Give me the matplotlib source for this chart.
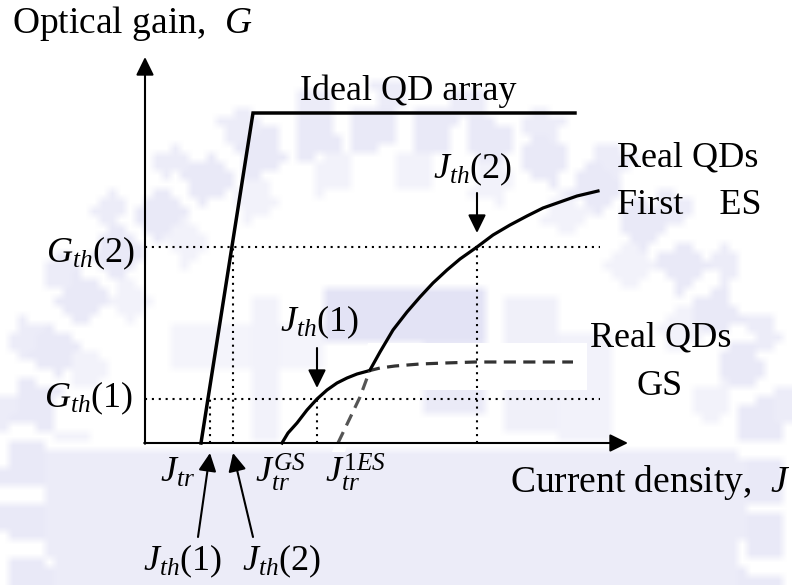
import numpy as np
import matplotlib
matplotlib.use("Agg")
import matplotlib.pyplot as plt
from matplotlib.patches import Polygon, Rectangle

plt.rcParams["font.family"] = ["Liberation Serif", "DejaVu Serif"]
plt.rcParams["mathtext.fontset"] = "custom"
plt.rcParams["mathtext.rm"] = "Liberation Serif"
plt.rcParams["mathtext.it"] = "Liberation Serif:italic"
plt.rcParams["mathtext.bf"] = "Liberation Serif:bold"

# ---- schematic gain-current data (arbitrary units) ----
ideal_J = [5.6, 10.8, 43.0]
ideal_G = [0.0, 33.0, 33.0]

gs_solid_J = [13.7, 14.3, 15.2, 16.2, 17.2, 18.2, 19.2, 20.2, 21.2, 22.3]
gs_solid_G = [0.0, 1.0, 2.0, 3.3, 4.4, 5.3, 6.0, 6.5, 6.9, 7.2]
gs_dash_J = [22.3, 23.5, 25.0, 27.5, 30.0, 33.0, 42.8]
gs_dash_G = [7.2, 7.5, 7.7, 7.9, 8.0, 8.1, 8.1]

es_dash_J = [19.3, 20.5, 21.5, 22.5]
es_dash_G = [0.0, 2.5, 4.6, 7.3]
es_solid_J = [22.5, 23.5, 24.8, 26.2, 27.5, 28.8, 30.2, 31.5, 33.2, 34.8,
              36.5, 38.2, 39.8, 41.5, 43.2, 45.3]
es_solid_G = [7.3, 9.1, 11.3, 13.1, 14.6, 16.0, 17.3, 18.4, 19.6, 20.8,
              21.8, 22.7, 23.5, 24.1, 24.7, 25.2]

G_th = [4.4, 19.6]            # G_th(1), G_th(2)
J_th_ideal = [6.5, 8.8]       # ideal array thresholds
J_th_real = [17.2, 33.2]      # real QD thresholds (GS, first ES)
J_axis_max, G_axis_max = 48.3, 38.6
dotted_end = 45.5

fig = plt.figure(figsize=(7.92, 5.85), dpi=100)
ax = fig.add_axes([0, 0, 1, 1])
xlim = (-14.5, 64.7)
ylim = (-14.2, 44.3)

# ---- faint emblem in the background ----
H, W, cell = 585, 792, 9
ys, xs = np.mgrid[0:H:cell, 0:W:cell].astype(float) + cell / 2
cx, cy = 395.0, 500.0
r = np.hypot(xs - cx, ys - cy)
theta = np.degrees(np.arctan2(cy - ys, xs - cx))
wm = np.zeros_like(r)
wm = np.maximum(wm, 0.6 * ((r > 352) & (r < 392) & ((theta % 9) < 6.5)))
wm = np.maximum(wm, 0.5 * ((r >= 392) & (r < 418) & ((theta % 11) < 5) & (ys < 470)))
wm = np.maximum(wm, 0.5 * ((r < 350) & (ys > 452)))
wm = np.maximum(wm, 0.35 * ((r > 315) & (r < 350) & ((theta % 14) < 6) & (ys < 440)))
for (x0, y0, x1, y1, v) in [(328, 287, 485, 340, 0.75), (424, 287, 485, 410, 0.55),
                            (167, 328, 323, 373, 0.3), (505, 300, 555, 430, 0.4),
                            (250, 300, 275, 440, 0.35), (560, 330, 610, 440, 0.35)]:
    wm = np.maximum(wm, v * ((xs > x0) & (xs < x1) & (ys > y0) & (ys < y1)))
img = np.zeros(wm.shape + (4,))
img[..., 0] = 0.82
img[..., 1] = 0.82
img[..., 2] = 0.94
img[..., 3] = np.clip(wm, 0, 1) * 0.8
ax.imshow(img, extent=(xlim[0], xlim[1], ylim[0], ylim[1]), origin="upper",
          interpolation="bilinear", aspect="auto", zorder=0)

# white masks behind the dashed segments
ax.add_patch(Rectangle((22.3, 5.3), 21.9, 4.7, facecolor="white", edgecolor="none", zorder=1))
ax.add_patch(Polygon([(18.7, -0.9), (20.0, -0.9), (23.5, 10.0), (22.3, 10.0)],
                     closed=True, facecolor="white", edgecolor="none", zorder=1))

# ---- axes with arrow heads ----
axis_arrow = dict(arrowstyle="-|>,head_length=0.55,head_width=0.27", lw=1.5,
                  color="black", shrinkA=0, shrinkB=0, mutation_scale=20)
ax.annotate("", xy=(0, G_axis_max), xytext=(0, -0.08), arrowprops=axis_arrow, zorder=5)
ax.annotate("", xy=(J_axis_max, 0), xytext=(-0.08, 0), arrowprops=axis_arrow, zorder=5)

# ---- dotted guide lines ----
dot = dict(color="black", lw=1.5, linestyle=(0, (1, 2.3)), dash_capstyle="butt", zorder=3)
for g in G_th:
    ax.plot([0, dotted_end], [g, g], **dot)
for j, g in zip(J_th_ideal, G_th):
    ax.plot([j, j], [0, g], **dot)
for j, g in zip(J_th_real, G_th):
    ax.plot([j, j], [0, g], **dot)

# ---- gain curves ----
ax.plot(ideal_J, ideal_G, color="black", lw=2.5, solid_joinstyle="miter", zorder=4)
ax.plot(gs_solid_J, gs_solid_G, color="black", lw=2.3, zorder=4)
ax.plot(gs_dash_J, gs_dash_G, color="#333333", lw=2.3, linestyle=(0, (3.8, 2.3)), zorder=4)
ax.plot(es_dash_J, es_dash_G, color="#555555", lw=2.3, linestyle=(0, (3.8, 2.3)), zorder=4)
ax.plot(es_solid_J, es_solid_G, color="black", lw=2.3, zorder=4)

# ---- threshold markers ----
small_arrow = dict(arrowstyle="-|>,head_length=0.55,head_width=0.27", lw=1.5,
                   color="black", shrinkA=0, shrinkB=0, mutation_scale=20)
ax.annotate("", xy=(J_th_real[1], G_th[1] + 1.4), xytext=(J_th_real[1], G_th[1] + 5.4),
            arrowprops=small_arrow, zorder=5)
ax.annotate("", xy=(J_th_real[0], G_th[0] + 1.1), xytext=(J_th_real[0], G_th[0] + 5.1),
            arrowprops=small_arrow, zorder=5)
ax.annotate("", xy=(J_th_ideal[0], -1.0), xytext=(5.3, -9.4), arrowprops=small_arrow, zorder=5)
ax.annotate("", xy=(J_th_ideal[1], -1.0), xytext=(10.8, -9.4), arrowprops=small_arrow, zorder=5)

# ---- labels ----
fs = 26
t = dict(color="black", va="baseline", zorder=6)
ax.text(-13.3, 41.0, r"Optical gain,  $G$", fontsize=27, ha="left", **t)
ax.text(15.5, 34.3, "Ideal QD array", fontsize=26, ha="left", **t)
ax.text(47.2, 27.6, "Real QDs", fontsize=fs, ha="left", **t)
ax.text(47.2, 22.9, "First    ES", fontsize=fs, ha="left", **t)
ax.text(44.5, 9.6, "Real QDs", fontsize=fs, ha="left", **t)
ax.text(51.5, 4.8, "GS", fontsize=fs, ha="center", **t)
ax.text(36.5, -4.9, r"Current density,  $J$", fontsize=27, ha="left", **t)

ax.text(-1.0, 18.1, r"$G_{th}(2)$", fontsize=fs, ha="right", **t)
ax.text(-1.2, 3.6, r"$G_{th}(1)$", fontsize=fs, ha="right", **t)
ax.text(28.8, 26.5, r"$J_{th}(2)$", fontsize=fs, ha="left", **t)
ax.text(13.5, 11.2, r"$J_{th}(1)$", fontsize=fs, ha="left", **t)
ax.text(1.5, -3.9, r"$J_{tr}$", fontsize=fs, ha="left", **t)
ax.text(11.0, -3.9, r"$J_{tr}^{GS}$", fontsize=fs, ha="left", **t)
ax.text(18.0, -3.9, r"$J_{tr}^{1ES}$", fontsize=fs, ha="left", **t)
ax.text(-0.2, -12.7, r"$J_{th}(1)$", fontsize=fs, ha="left", **t)
ax.text(9.7, -12.7, r"$J_{th}(2)$", fontsize=fs, ha="left", **t)

ax.set_xlim(*xlim)
ax.set_ylim(*ylim)
ax.axis("off")
fig.savefig("out.png", dpi=100, facecolor="white")
